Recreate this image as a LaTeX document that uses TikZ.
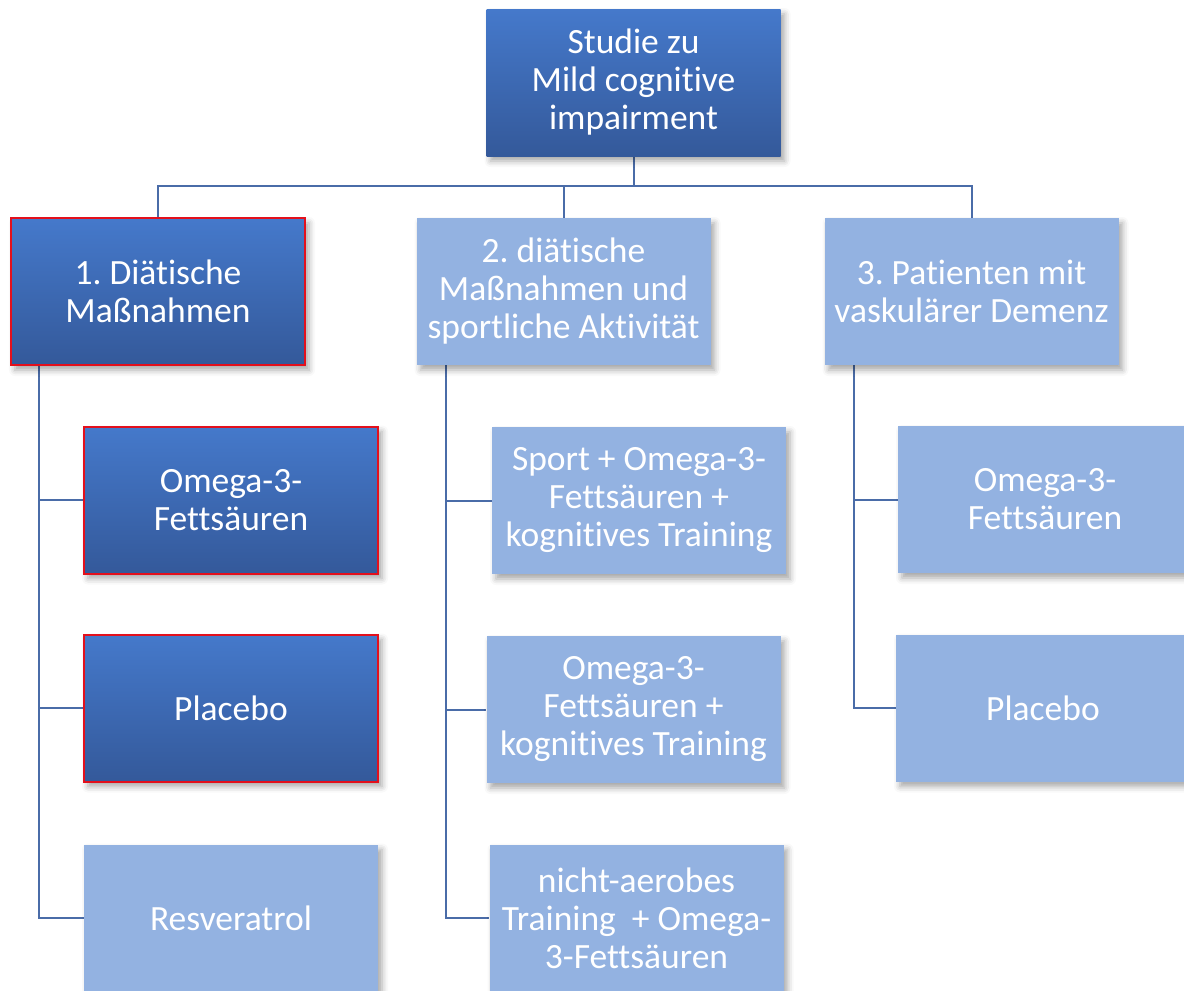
\documentclass[tikz,border=0pt]{standalone}
\usepackage{fontspec}
\setmainfont{Carlito}[Ligatures=NoCommon]
\usetikzlibrary{shadows.blur,backgrounds}
\frenchspacing

\definecolor{darktop}{HTML}{4579CB}
\definecolor{darkbot}{HTML}{34599A}
\definecolor{lightfill}{HTML}{93B2E1}
\definecolor{linkcol}{HTML}{4A6CA8}
\definecolor{hilite}{HTML}{E3101C}

\tikzset{
  boxbase/.style={rectangle, minimum width=294pt, minimum height=147pt,
    inner sep=0pt, align=center, text=white,
    font=\fontsize{35.5}{38}\selectfont,
    blur shadow={shadow xshift=4pt, shadow yshift=-5pt,
      shadow blur radius=6pt, shadow opacity=35}},
  darkbox/.style={boxbase, top color=darktop, bottom color=darkbot},
  lightbox/.style={boxbase, fill=lightfill},
  marked/.style={draw=hilite, line width=2pt},
  link/.style={draw=linkcol, line width=2pt}
}

\begin{document}
\begin{tikzpicture}[x=1pt, y=-1pt]
\useasboundingbox (0,0) rectangle (1184,991);
\clip (0,0) rectangle (1184,991);

% root and the three study arms
\node[darkbox] (root) at (633.5,82.5) {Studie zu\\Mild cognitive\\impairment};
\node[darkbox, marked] (a1) at (158,291.5) {1. Diätische\\Maßnahmen};
\node[lightbox] (a2) at (563.5,291.5) {2. diätische\\Maßnahmen und\\sportliche Aktivität};
\node[lightbox] (a3) at (971.5,291.5) {3. Patienten mit\\vaskulärer Demenz};

% arm 1
\node[darkbox, marked] (a1o) at (231,500) {Omega-3-\\Fettsäuren};
\node[darkbox, marked] (a1p) at (231,708) {Placebo};
\node[lightbox] (a1r) at (231,918) {Resveratrol};

% arm 2
\node[lightbox] (a2s) at (639,500.5) {Sport + Omega-3-\\Fettsäuren +\\kognitives Training};
\node[lightbox] (a2o) at (633.5,709.5) {Omega-3-\\Fettsäuren +\\kognitives Training};
\node[lightbox] (a2n) at (636.5,918) {nicht-aerobes\\Training~~+ Omega-\\3-Fettsäuren};

% arm 3
\node[lightbox] (a3o) at (1045,499.5) {Omega-3-\\Fettsäuren};
\node[lightbox] (a3p) at (1043,708) {Placebo};

% connectors, kept behind the boxes
\begin{scope}[on background layer]
  \draw[link] (root.south) -- ++(0,30) coordinate (bus) -| (a1.north);
  \draw[link] (bus) -| (a2.north);
  \draw[link] (bus) -| (a3.north);

  \draw[link] ([xshift=29pt]a1.south west) |- (a1o.west);
  \draw[link] ([xshift=29pt]a1.south west) |- (a1p.west);
  \draw[link] ([xshift=29pt]a1.south west) |- (a1r.west);

  \draw[link] ([xshift=30pt]a2.south west) |- (a2s.west);
  \draw[link] ([xshift=30pt]a2.south west) |- (a2o.west);
  \draw[link] ([xshift=30pt]a2.south west) |- (a2n.west);

  \draw[link] ([xshift=30pt]a3.south west) |- (a3o.west);
  \draw[link] ([xshift=30pt]a3.south west) |- (a3p.west);
\end{scope}
\end{tikzpicture}
\end{document}
